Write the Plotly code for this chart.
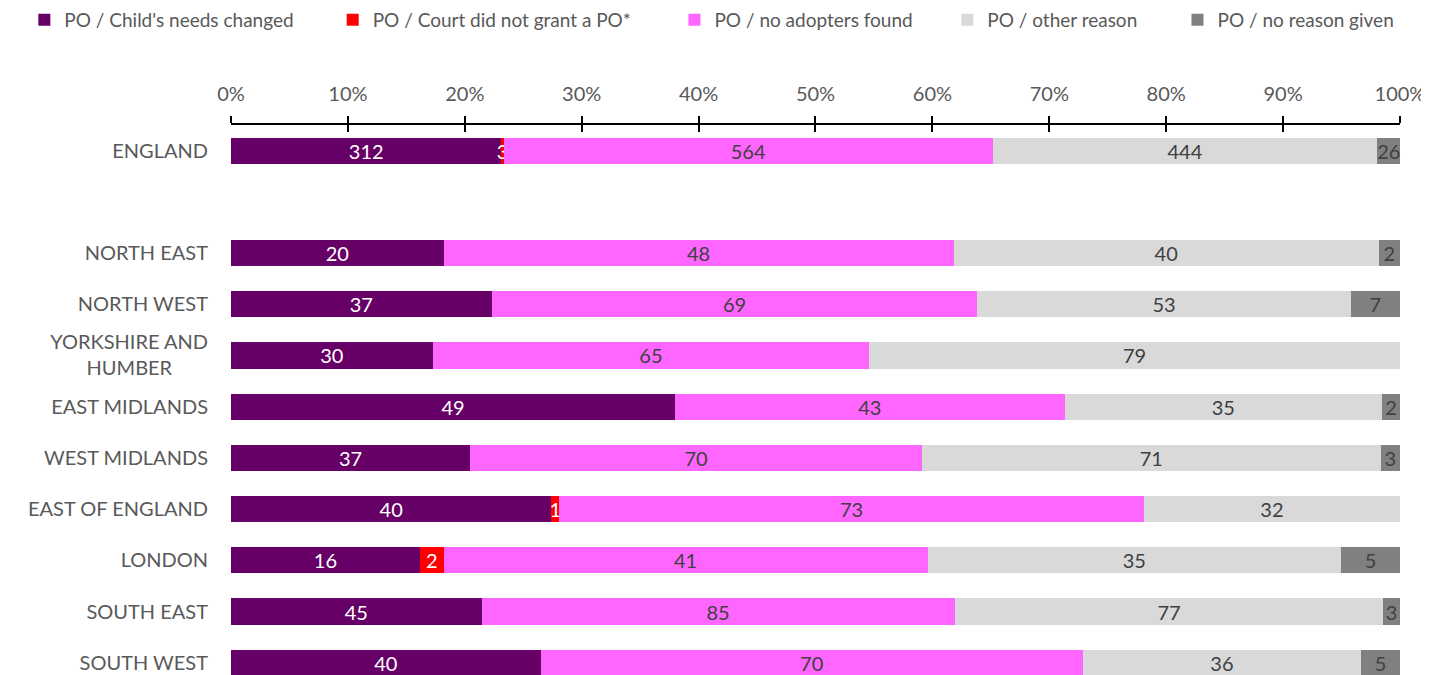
import plotly.graph_objects as go

regions = ["ENGLAND", " ", "NORTH EAST", "NORTH WEST",
           "YORKSHIRE AND<br>HUMBER" + "\u00a0" * 7,
           "EAST MIDLANDS", "WEST MIDLANDS", "EAST OF ENGLAND", "LONDON",
           "SOUTH EAST", "SOUTH WEST"]

series_names = ["PO / Child's needs changed", "PO / Court did not grant a PO*",
                "PO / no adopters found", "PO / other reason", "PO / no reason given"]

needs_changed = [312, None, 20, 37, 30, 49, 37, 40, 16, 45, 40]
court_refused = [3, None, 0, 0, 0, 0, 0, 1, 2, 0, 0]
no_adopters = [564, None, 48, 69, 65, 43, 70, 73, 41, 85, 70]
other_reason = [444, None, 40, 53, 79, 35, 71, 32, 35, 77, 36]
no_reason = [26, None, 2, 7, 0, 2, 3, 0, 5, 3, 5]

tick_vals = [0, 10, 20, 30, 40, 50, 60, 70, 80, 90, 100]
tick_text = [f"{v}%" for v in tick_vals]

colors = ["#660066", "#FF0000", "#FF66FF", "#D9D9D9", "#808080"]
text_colors = ["white", "white", "#404040", "#404040", "#404040"]

# one legend per series so each entry sits where it does in the original
legend_x = [0.0115, 0.2285, 0.469, 0.661, 0.823]

FONT = "Lato, 'Open Sans', sans-serif"

fig = go.Figure()
for i, (name, vals, col, tcol) in enumerate(zip(
        series_names,
        [needs_changed, court_refused, no_adopters, other_reason, no_reason],
        colors, text_colors)):
    fig.add_trace(go.Bar(
        y=regions, x=vals, name=name, orientation="h",
        marker=dict(color=col, line=dict(width=0)),
        width=0.51,
        text=[str(v) if v else "" for v in vals],
        textposition="inside", insidetextanchor="middle", textangle=0,
        insidetextfont=dict(color=tcol, size=20, family=FONT),
        cliponaxis=False,
        legend="legend" if i == 0 else f"legend{i + 1}",
    ))

# page body adds an 8px offset, so the figure is 8px smaller and margins shifted
fig.update_layout(
    width=1421, height=667,
    barmode="stack", barnorm="percent",
    plot_bgcolor="white", paper_bgcolor="white",
    margin=dict(l=223, r=29, t=117, b=0),
    font=dict(family=FONT, color="#595959"),
    uniformtext=dict(minsize=19, mode="show"),
    xaxis=dict(side="top", range=[0, 100.001], tickvals=tick_vals, ticktext=tick_text,
               showgrid=False, zeroline=False, showline=True, linecolor="black",
               linewidth=1.5, ticks="outside", ticklen=7, tickwidth=1.5, tickcolor="black",
               tickfont=dict(size=20, color="#595959"), ticklabelstandoff=7, fixedrange=True),
    xaxis2=dict(overlaying="x", matches="x", side="top", tickvals=tick_vals,
                showticklabels=False, showgrid=False, zeroline=False, ticks="inside",
                ticklen=7, tickwidth=1.5, tickcolor="black"),
    yaxis=dict(type="category", categoryorder="array", categoryarray=regions,
               range=[10.24, -0.5], showgrid=False, zeroline=False, showline=False,
               ticks="", tickfont=dict(size=20, color="#595959"), ticklabelstandoff=22),
)
for i, lx in enumerate(legend_x):
    key = "legend" if i == 0 else f"legend{i + 1}"
    fig.update_layout({key: dict(orientation="h", xref="container", x=lx, xanchor="left",
                                 yref="container", y=0.982, yanchor="middle",
                                 font=dict(size=19, color="#595959"), itemwidth=30,
                                 bgcolor="rgba(0,0,0,0)")})

# invisible trace so the overlaid top axis draws its inner ticks
fig.add_trace(go.Scatter(x=[0, 100], y=["ENGLAND", "ENGLAND"], xaxis="x2", mode="none",
                         showlegend=False, hoverinfo="skip"))

fig.write_html("out.html")
